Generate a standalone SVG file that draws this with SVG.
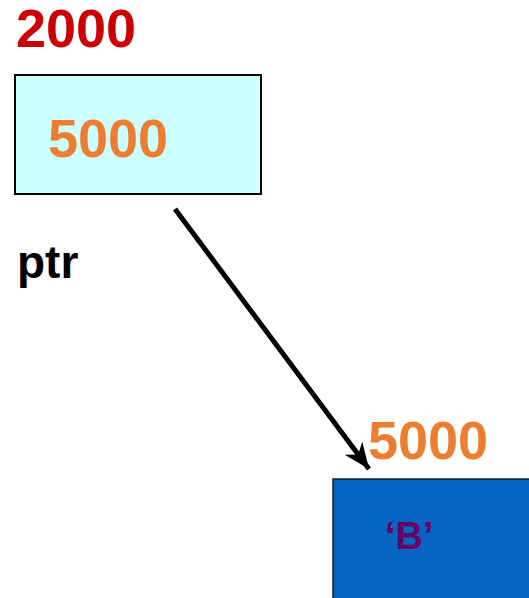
<svg xmlns="http://www.w3.org/2000/svg" width="529" height="598" viewBox="0 0 529 598">
  <style>
    .t { font-family: "Liberation Sans", Arial, sans-serif; font-weight: bold; }
    .addr { font-size: 54px; }
    .num { fill: #ED7D31; }
  </style>
  <defs>
    <marker id="arrow" markerUnits="userSpaceOnUse" markerWidth="30" markerHeight="30" viewBox="0 0 30 30" refX="26" refY="15" orient="auto">
      <path d="M0,4 L26,15 L0,26 L8,15 Z" fill="#000"/>
    </marker>
  </defs>
  <rect width="529" height="598" fill="#fff"/>

  <g id="ptr-cell">
    <text class="t addr" x="16" y="47" fill="#CC0000">2000</text>
    <rect x="15" y="75" width="246" height="119" fill="#CCFFFF" stroke="#000" stroke-width="2"/>
    <text class="t addr num" x="48" y="157">5000</text>
    <text class="t" x="17" y="278" font-size="46" fill="#000">ptr</text>
  </g>

  <g id="char-cell">
    <text class="t addr num" x="368" y="459">5000</text>
    <rect x="333" y="479" width="200" height="125" fill="#0563C1" stroke="#1a1a1a" stroke-width="1.5"/>
    <text class="t" x="385" y="549" font-size="38" fill="#660066">‘B’</text>
  </g>

  <g id="connectors">
    <line x1="175" y1="209" x2="369" y2="469" stroke="#000" stroke-width="5" marker-end="url(#arrow)"/>
  </g>
</svg>
